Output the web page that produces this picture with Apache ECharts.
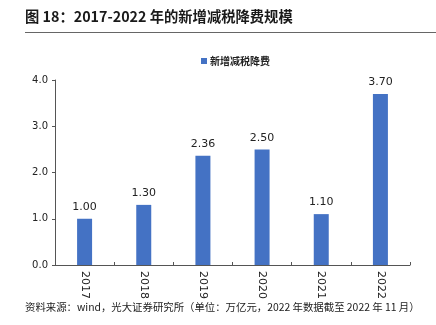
<!DOCTYPE html>
<html><head><meta charset="utf-8">
<script src="https://cdn.jsdelivr.net/npm/echarts@6/dist/echarts.min.js"></script>
<style>html,body{margin:0;padding:0;background:#fff}#c{width:436px;height:325px}</style>
</head><body><div id="c"></div>
<script>
const categories = ['2017','2018','2019','2020','2021','2022'];
const values = [1.00, 1.30, 2.36, 2.50, 1.10, 3.70];
const seriesName = '新增减税降费';
const yTicks = [0, 1, 2, 3, 4];
const titleText = '图 18：2017-2022 年的新增减税降费规模';
const sourceText = '资料来源：wind，光大证券研究所（单位：万亿元，2022 年数据截至 2022 年 11 月）';
const font = '"Noto Sans CJK SC", "Noto Sans", sans-serif';

const chart = echarts.init(document.getElementById('c'), null, {renderer:'canvas'});
chart.setOption({
  animation:false,
  textStyle:{fontFamily:font},
  title:[
    {text:titleText, left:20, top:4, textStyle:{fontSize:14.3, fontWeight:'bold', color:'#1a1a1a', fontFamily:font}},
    {text:sourceText, left:20, top:297, textStyle:{fontSize:10.4, fontWeight:'normal', color:'#222', fontFamily:font}}
  ],
  graphic:[
    {type:'line', shape:{x1:25,y1:32.5,x2:436,y2:32.5}, style:{stroke:'#666', lineWidth:1}}
  ],
  legend:{
    data:[seriesName], left:196, top:51, itemWidth:6, itemHeight:6, itemGap:4,
    icon:'rect',
    textStyle:{fontSize:10, fontWeight:'bold', color:'#222', fontFamily:font, padding:[0,0,0,-2]}
  },
  grid:{left:55, right:26, top:80, bottom:60},
  xAxis:{
    type:'category', data:categories,
    axisLine:{lineStyle:{color:'#555', width:1}},
    axisTick:{show:true, inside:true, length:3, lineStyle:{color:'#555'}},
    axisLabel:{rotate:-90, fontSize:11, color:'#222', margin:6, fontFamily:'"DejaVu Sans", sans-serif'}
  },
  yAxis:{
    type:'value', min:0, max:4, interval:1,
    axisLine:{show:true, lineStyle:{color:'#555', width:1}},
    axisTick:{show:true, length:3, lineStyle:{color:'#555'}},
    splitLine:{show:false},
    axisLabel:{formatter:v=>v.toFixed(1), fontSize:10, color:'#222', margin:7, fontFamily:'"DejaVu Sans", sans-serif'}
  },
  series:[{
    name:seriesName, type:'bar', data:values, barWidth:15,
    itemStyle:{color:'#4472C4'},
    label:{show:true, position:'top', distance:6, formatter:p=>p.value.toFixed(2), fontSize:11, color:'#222', fontFamily:'"DejaVu Sans", sans-serif'}
  }]
});
</script></body></html>
